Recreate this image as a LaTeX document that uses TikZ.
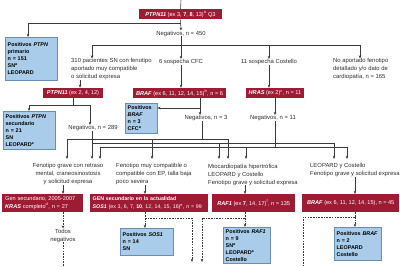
\documentclass[tikz,border=0pt]{standalone}
\usepackage{fontspec}
\setmainfont{Liberation Sans}
\usetikzlibrary{arrows.meta}
\definecolor{wine}{HTML}{9E1B34}
\definecolor{skyfill}{HTML}{A9CCEA}
\definecolor{skyline}{HTML}{6A8DB0}
\definecolor{lin}{HTML}{3A3A3A}
\definecolor{txt}{HTML}{2E2E2E}
\begin{document}
\begin{tikzpicture}[x=1pt,y=-1pt,
  lbl/.style={text=txt,inner sep=0pt,font=\fontsize{5.9}{8}\selectfont},
  rbox/.style={fill=wine,text=white,inner sep=0pt,inner xsep=3pt,minimum height=10pt,font=\fontsize{5.6}{7.5}\selectfont},
  bbox/.style={fill=skyfill,draw=skyline,line width=0.4pt,anchor=north west,align=left,inner xsep=2.5pt,inner ysep=2pt,font=\fontsize{5.4}{7}\selectfont\bfseries},
  con/.style={draw=lin,line width=0.55pt},
  arr/.style={con,-{Stealth[length=3.2pt,width=2.6pt]}},
  dsh/.style={con,dash pattern=on 1.6pt off 1.1pt},
  darr/.style={dsh,-{Stealth[length=3.2pt,width=2.6pt]}}]
\useasboundingbox (0,0) rectangle (400,267);
% ---------- top ----------
\coordinate (top) at (181,0);
\node[rbox,minimum width=83pt] (p1) at (180.5,14.5) {\textbf{\textit{PTPN11}} (ex 3, \textbf{7}, \textbf{8}, 13)\textsuperscript{a} Q3};
\draw[con] (top) -- (p1.north);
\node[lbl] (n450) at (181,33.5) {Negativos, n = 450};
\coordinate (j1) at (181,23);
\coordinate (j1l) at (28,23);
\node[bbox,minimum width=52pt,minimum height=43pt,text width=47pt] (pp) at (5,37) {Positivos \textit{PTPN}\\primario\\n = 151\\SN\textsuperscript{a}\\LEOPARD};
\draw[arr] (p1.south) -- (n450.north);
\draw[arr] (j1) -- (j1l) -- (j1l |- pp.north);
% bus 1
\coordinate (j2) at (181,45);
\coordinate (b310) at (92,45);
\coordinate (bcos) at (269,45);
\coordinate (bno) at (360,45);
\node[lbl,anchor=north west,align=left] (l310) at (71,58.5) {310 pacientes SN con fenotipo\\aportado muy compatible\\o solicitud expresa};
\node[lbl] (lcfc) at (181,62) {6 sospecha CFC};
\node[lbl] (lcos) at (269,62) {11 sospecha Costello};
\node[lbl,anchor=north west,align=left] (lno) at (333,58.5) {No aportado fenotipo\\detallado y/o dato de\\cardiopatía, n = 165};
\draw[con] (n450.south) -- (j2);
\draw[con] (b310) -- (bno);
\draw[arr] (b310) -- (b310 |- l310.north);
\draw[arr] (j2) -- (lcfc.north);
\draw[arr] (bcos) -- (lcos.north);
\draw[arr] (bno) -- (bno |- lno.north);
% ---------- second row ----------
\node[rbox,minimum width=60pt] (p2) at (73,93) {\textbf{\textit{PTPN11}} (ex 2, 4, 12)};
\node[rbox,minimum width=93pt] (br1) at (179.5,93) {\textbf{\textit{BRAF}} (ex 6, 11, 12, 14, 15)\textsuperscript{b}, n = 6};
\node[rbox,minimum width=56pt] (hr) at (275,93) {\textbf{\textit{HRAS}} (ex 2)\textsuperscript{c}, n = 11};
\coordinate (x80) at (80,0);
\draw[arr] (l310.south -| x80) -- (x80 |- p2.north);
\draw[arr] (lcfc.south) -- (lcfc.south |- br1.north);
\draw[arr] (lcos.south) -- (lcos.south |- hr.north);
% PTPN11 secondary
\coordinate (j3) at (73,105);
\coordinate (j3l) at (29,105);
\coordinate (j3r) at (90,105);
\node[bbox,minimum width=52pt,minimum height=38pt,text width=47pt] (ps) at (3,111) {Positivos \textit{PTPN}\\secundario\\n = 21\\SN\\LEOPARD\textsuperscript{a}};
\node[lbl] (n289) at (93,128) {Negativos, n = 289};
\draw[con] (p2.south) -- (j3);
\draw[con] (j3l) -- (j3r);
\draw[arr] (j3l) -- (j3l |- ps.north);
\draw[arr] (j3r) -- (j3r |- n289.north);
% BRAF
\node[bbox,minimum width=32pt,minimum height=30pt,text width=27pt] (pb) at (125,103) {Positivos\\\textit{BRAF}\\n = 3\\CFC\textsuperscript{a}};
\coordinate (j4) at (200,108);
\node[lbl] (n3) at (206,118) {Negativos, n = 3};
\draw[con] (j4 |- br1.south) -- (j4);
\draw[arr] (j4) -- (j4 -| pb.east);
\draw[arr] (j4) -- (j4 |- n3.north);
% HRAS
\node[lbl] (n11) at (273,118) {Negativos, n = 11};
\draw[arr] (hr.south) -- (hr.south |- n11.north);
% ---------- third-row labels ----------
\node[lbl,align=center,anchor=north] (lk) at (68,163.5) {Fenotipo grave con retraso\\mental, craneosinostosis\\y solicitud expresa};
\node[lbl,align=left,anchor=north west] (ls) at (116,163.5) {Fenotipo muy compatible o\\compatible con EP, talla baja\\poco severa};
\node[lbl,align=left,anchor=north west] (lr) at (208,163.5) {Miocardiopatía hipertrófica\\LEOPARD y Costello\\Fenotipo grave y solicitud expresa};
\node[lbl,align=left,anchor=north west] (lb) at (310,163.5) {LEOPARD y Costello\\Fenotipo grave y solicitud expresa};
% bus 2 (three feeder lines)
\coordinate (tL) at (67,139);
\coordinate (t3) at (202,139);
\coordinate (tS) at (152,139);
\coordinate (tR) at (228,139);
\coordinate (m289) at (92,143);
\coordinate (mR1) at (219,143);
\coordinate (mR) at (334,143);
\coordinate (bL) at (100,147);
\coordinate (b11) at (275,147);
\coordinate (bR1) at (246,147);
\coordinate (bR) at (347,147);
\coordinate (tipy) at (0,159);
% from Negativos n = 3
\draw[con] (n3.south -| t3) -- (t3);
\draw[con] (tL) -- (tR);
\draw[arr] (tL) -- (tL |- tipy);
\draw[arr] (tS) -- (tS |- tipy);
\draw[arr] (tR) -- (tR |- tipy);
% from Negativos n = 289
\draw[arr] (n289.south -| m289) -- (m289 |- tipy);
\draw[con] (m289) -- (mR);
\draw[arr] (mR1) -- (mR1 |- tipy);
\draw[arr] (mR) -- (mR |- tipy);
% from Negativos n = 11
\draw[con] (n11.south -| b11) -- (b11);
\draw[con] (bL) -- (bR);
\draw[arr] (bL) -- (bL |- tipy);
\draw[arr] (bR1) -- (bR1 |- tipy);
\draw[arr] (bR) -- (bR |- tipy);
% ---------- third-row boxes ----------
\node[rbox,minimum width=81pt,minimum height=18pt,align=left,anchor=north west,text width=75pt] (kr) at (2,194) {Gen secundario, 2005-2007\\\textbf{\textit{KRAS}} completo\textsuperscript{d}, n = 27};
\node[rbox,minimum width=118pt,minimum height=18pt,align=left,anchor=north west,text width=113pt,inner xsep=2.5pt,font=\fontsize{5.3}{7.2}\selectfont] (so) at (90,194) {\textbf{GEN secundario en la actualidad}\\\textbf{\textit{SOS1}} (ex 3, 6, 7, \textbf{10}, 12, 14, 15, 16)\textsuperscript{e}, n = 99};
\node[rbox,minimum width=83pt,minimum height=18pt,anchor=north west] (rf) at (212,194) {\textbf{\textit{RAF1}} (ex \textbf{7}, 14, 17)\textsuperscript{f}, n = 135};
\node[rbox,minimum width=97pt,minimum height=18pt,anchor=north west] (bf) at (302,194) {\textbf{\textit{BRAF}} (ex 6, 11, 12, 14, 15), n = 45};
\coordinate (xk) at (63,0);
\coordinate (xs) at (145,0);
\coordinate (xr) at (245,0);
\coordinate (xb) at (355,0);
\draw[arr] (lk.south -| xk) -- (xk |- kr.north);
\draw[arr] (ls.south -| xs) -- (xs |- so.north);
\draw[arr] (lr.south -| xr) -- (xr |- rf.north);
\draw[arr] (lb.south -| xb) -- (xb |- bf.north);
% ---------- results ----------
\node[lbl,align=center] (tn) at (63,235.5) {Todos\\negativos};
\coordinate (kbot) at (63,267);
\draw[darr] (xk |- kr.south) -- (tn.north);
\draw[dsh] (tn.south) -- (kbot);
\node[bbox,minimum width=53pt,minimum height=27pt,text width=48pt] (pso) at (120,228) {Positivos \textit{SOS1}\\n = 14\\SN};
\node[bbox,minimum width=47pt,minimum height=35pt,text width=42pt] (prf) at (223,227) {Positivos \textit{RAF1}\\n = 9\\SN\textsuperscript{a}\\LEOPARD\textsuperscript{a}\\Costello};
\node[bbox,minimum width=47pt,minimum height=33pt,text width=42pt] (pbf) at (334,227) {Positivos \textit{BRAF}\\n = 2\\LEOPARD\\Costello};
% SOS1 dashed
\coordinate (ds) at (145,218);
\coordinate (dsr) at (192,218);
\coordinate (dsb) at (192,262);
\draw[dsh] (xs |- so.south) -- (ds);
\draw[darr] (ds) -- (ds |- pso.north);
\draw[darr] (ds) -- (dsr) -- (dsb);
% RAF1 dashed
\coordinate (dr) at (245,218);
\coordinate (drl) at (202,218);
\coordinate (drb) at (202,262);
\draw[dsh] (xr |- rf.south) -- (dr);
\draw[darr] (dr) -- (dr |- prf.north);
\draw[darr] (dr) -- (drl) -- (drb);
% BRAF dashed
\coordinate (db) at (355,217);
\coordinate (dbl) at (303,217);
\coordinate (dbb) at (303,267);
\draw[dsh] (xb |- bf.south) -- (db);
\draw[darr] (db) -- (db |- pbf.north);
\draw[dsh] (db) -- (dbl) -- (dbb);
\end{tikzpicture}
\end{document}
